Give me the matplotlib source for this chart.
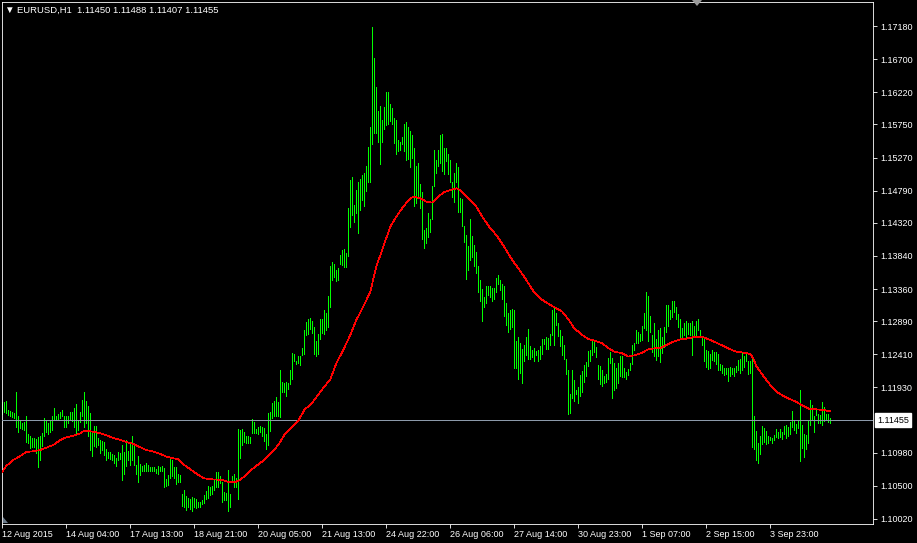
import numpy as np
import matplotlib
matplotlib.use("Agg")
import matplotlib.pyplot as plt
from matplotlib.transforms import blended_transform_factory
from matplotlib.patches import Polygon

plt.rcParams['font.family'] = ['Liberation Sans', 'DejaVu Sans']

# ---------------- data ----------------
symbol = "EURUSD,H1"
last_ohlc = ["1.11450", "1.11488", "1.11407", "1.11455"]
bid = 1.11455

highs = [
    1.1172,1.1172,1.1174,1.1160,1.1159,1.1157,1.1156,1.1187,1.1152,1.1146,
    1.1142,1.1143,1.1152,1.1126,1.1123,1.1119,1.1119,1.1118,1.1121,1.1122,
    1.1127,1.1149,1.1145,1.1142,1.1144,1.1152,1.1163,1.1152,1.1155,1.1157,
    1.1160,1.1151,1.1151,1.1152,1.1157,1.1157,1.1163,1.1169,1.1144,1.1157,
    1.1175,1.1187,1.1173,1.1166,1.1156,1.1130,1.1137,1.1137,1.1119,1.1117,
    1.1115,1.1114,1.1103,1.1099,1.1099,1.1096,1.1095,1.1090,1.1099,1.1098,
    1.1109,1.1100,1.1117,1.1101,1.1114,1.1123,1.1112,1.1081,1.1093,1.1082,
    1.1079,1.1081,1.1084,1.1081,1.1077,1.1077,1.1077,1.1075,1.1079,1.1077,
    1.1079,1.1076,1.1060,1.1066,1.1092,1.1088,1.1077,1.1078,1.1067,1.1066,
    1.1039,1.1044,1.1035,1.1032,1.1031,1.1034,1.1033,1.1031,1.1026,1.1027,
    1.1030,1.1037,1.1042,1.1050,1.1048,1.1050,1.1058,1.1070,1.1070,1.1064,
    1.1055,1.1041,1.1040,1.1073,1.1038,1.1064,1.1068,1.1061,1.1132,1.1131,
    1.1133,1.1129,1.1123,1.1122,1.1121,1.1147,1.1143,1.1133,1.1136,1.1137,
    1.1135,1.1134,1.1125,1.1156,1.1157,1.1170,1.1174,1.1179,1.1172,1.1219,
    1.1201,1.1199,1.1201,1.1199,1.1218,1.1243,1.1241,1.1232,1.1239,1.1238,
    1.1251,1.1277,1.1288,1.1293,1.1294,1.1290,1.1281,1.1261,1.1271,1.1292,
    1.1292,1.1306,1.1301,1.1326,1.1370,1.1375,1.1372,1.1363,1.1366,1.1386,
    1.1392,1.1394,1.1388,1.1454,1.1494,1.1499,1.1458,1.1480,1.1491,1.1496,
    1.1501,1.1504,1.1515,1.1543,1.1572,1.1716,1.1672,1.1630,1.1595,1.1602,
    1.1582,1.1601,1.1622,1.1622,1.1605,1.1599,1.1584,1.1581,1.1552,1.1550,
    1.1557,1.1575,1.1579,1.1571,1.1565,1.1559,1.1541,1.1514,1.1519,1.1489,
    1.1477,1.1422,1.1424,1.1447,1.1438,1.1486,1.1538,1.1523,1.1538,1.1559,
    1.1561,1.1541,1.1541,1.1532,1.1524,1.1492,1.1504,1.1519,1.1513,1.1468,
    1.1467,1.1428,1.1414,1.1398,1.1437,1.1413,1.1400,1.1390,1.1369,1.1349,
    1.1336,1.1324,1.1340,1.1340,1.1340,1.1338,1.1337,1.1352,1.1356,1.1349,
    1.1344,1.1340,1.1316,1.1301,1.1305,1.1307,1.1306,1.1261,1.1266,1.1258,
    1.1249,1.1254,1.1267,1.1278,1.1253,1.1247,1.1250,1.1246,1.1247,1.1253,
    1.1264,1.1263,1.1266,1.1265,1.1270,1.1305,1.1308,1.1301,1.1286,1.1277,
    1.1268,1.1254,1.1234,1.1219,1.1184,1.1218,1.1204,1.1189,1.1193,1.1211,
    1.1217,1.1226,1.1230,1.1246,1.1247,1.1260,1.1260,1.1252,1.1226,1.1224,
    1.1219,1.1209,1.1213,1.1236,1.1244,1.1236,1.1228,1.1222,1.1229,1.1239,
    1.1239,1.1222,1.1216,1.1220,1.1229,1.1255,1.1258,1.1276,1.1274,1.1271,
    1.1282,1.1301,1.1332,1.1326,1.1297,1.1269,1.1286,1.1264,1.1276,1.1280,
    1.1267,1.1281,1.1313,1.1313,1.1306,1.1319,1.1319,1.1310,1.1300,1.1293,
    1.1280,1.1286,1.1289,1.1286,1.1286,1.1290,1.1282,1.1289,1.1292,1.1276,
    1.1268,1.1267,1.1247,1.1246,1.1242,1.1247,1.1245,1.1245,1.1241,1.1227,
    1.1225,1.1222,1.1221,1.1222,1.1223,1.1222,1.1222,1.1224,1.1233,1.1235,
    1.1243,1.1238,1.1243,1.1232,1.1231,1.1240,1.1151,1.1130,1.1112,1.1122,
    1.1137,1.1134,1.1130,1.1122,1.1121,1.1119,1.1124,1.1132,1.1129,1.1132,
    1.1129,1.1137,1.1138,1.1136,1.1143,1.1159,1.1146,1.1140,1.1146,1.1189,
    1.1139,1.1126,1.1124,1.1146,1.1175,1.1167,1.1151,1.1162,1.1155,1.1153,
    1.1172,1.1164,1.1155,1.1155,1.1149,
]

lows = [
    1.1155,1.1157,1.1156,1.1153,1.1152,1.1150,1.1148,1.1135,1.1129,1.1134,
    1.1132,1.1131,1.1114,1.1112,1.1105,1.1107,1.1107,1.1098,1.1077,1.1088,
    1.1108,1.1122,1.1129,1.1126,1.1129,1.1131,1.1146,1.1147,1.1147,1.1148,
    1.1152,1.1136,1.1135,1.1142,1.1147,1.1145,1.1136,1.1124,1.1131,1.1143,
    1.1151,1.1136,1.1142,1.1122,1.1102,1.1094,1.1108,1.1107,1.1109,1.1098,
    1.1102,1.1095,1.1088,1.1090,1.1089,1.1088,1.1084,1.1079,1.1088,1.1089,
    1.1059,1.1068,1.1079,1.1088,1.1080,1.1088,1.1080,1.1067,1.1055,1.1066,
    1.1071,1.1071,1.1071,1.1072,1.1072,1.1071,1.1072,1.1069,1.1068,1.1071,
    1.1072,1.1048,1.1050,1.1051,1.1061,1.1064,1.1061,1.1053,1.1056,1.1056,
    1.1021,1.1019,1.1015,1.1019,1.1016,1.1014,1.1019,1.1018,1.1020,1.1019,
    1.1024,1.1025,1.1031,1.1032,1.1037,1.1039,1.1044,1.1049,1.1049,1.1054,
    1.1027,1.1029,1.1030,1.1014,1.1019,1.1055,1.1048,1.1048,1.1031,1.1091,
    1.1110,1.1114,1.1113,1.1112,1.1112,1.1127,1.1127,1.1127,1.1126,1.1128,
    1.1122,1.1115,1.1104,1.1109,1.1130,1.1148,1.1151,1.1152,1.1152,1.1150,
    1.1187,1.1186,1.1180,1.1191,1.1198,1.1206,1.1232,1.1227,1.1228,1.1226,
    1.1240,1.1241,1.1269,1.1271,1.1278,1.1272,1.1241,1.1238,1.1242,1.1263,
    1.1272,1.1270,1.1276,1.1281,1.1310,1.1349,1.1354,1.1348,1.1349,1.1373,
    1.1371,1.1368,1.1368,1.1384,1.1426,1.1444,1.1433,1.1446,1.1418,1.1451,
    1.1465,1.1456,1.1479,1.1492,1.1492,1.1547,1.1562,1.1563,1.1549,1.1517,
    1.1549,1.1569,1.1574,1.1576,1.1580,1.1576,1.1548,1.1532,1.1537,1.1538,
    1.1547,1.1537,1.1523,1.1525,1.1513,1.1527,1.1456,1.1461,1.1470,1.1453,
    1.1409,1.1395,1.1403,1.1412,1.1419,1.1437,1.1486,1.1504,1.1514,1.1519,
    1.1508,1.1503,1.1522,1.1503,1.1492,1.1470,1.1462,1.1492,1.1448,1.1448,
    1.1427,1.1404,1.1350,1.1364,1.1378,1.1383,1.1369,1.1359,1.1332,1.1319,
    1.1290,1.1310,1.1315,1.1327,1.1325,1.1319,1.1321,1.1331,1.1343,1.1335,
    1.1322,1.1297,1.1284,1.1273,1.1278,1.1281,1.1221,1.1222,1.1205,1.1214,
    1.1200,1.1231,1.1240,1.1234,1.1235,1.1237,1.1231,1.1240,1.1231,1.1234,
    1.1242,1.1256,1.1249,1.1249,1.1255,1.1269,1.1255,1.1284,1.1268,1.1253,
    1.1240,1.1234,1.1213,1.1155,1.1156,1.1177,1.1174,1.1184,1.1171,1.1180,
    1.1186,1.1201,1.1210,1.1224,1.1231,1.1240,1.1245,1.1237,1.1205,1.1198,
    1.1195,1.1199,1.1201,1.1205,1.1229,1.1177,1.1189,1.1192,1.1200,1.1209,
    1.1208,1.1208,1.1206,1.1211,1.1218,1.1227,1.1248,1.1257,1.1258,1.1260,
    1.1262,1.1280,1.1277,1.1261,1.1273,1.1245,1.1239,1.1233,1.1239,1.1230,
    1.1243,1.1252,1.1274,1.1282,1.1293,1.1296,1.1303,1.1293,1.1281,1.1264,
    1.1267,1.1269,1.1264,1.1271,1.1269,1.1240,1.1269,1.1267,1.1276,1.1267,
    1.1255,1.1232,1.1223,1.1220,1.1222,1.1233,1.1232,1.1227,1.1219,1.1218,
    1.1214,1.1211,1.1213,1.1203,1.1210,1.1213,1.1210,1.1216,1.1218,1.1214,
    1.1218,1.1223,1.1231,1.1213,1.1214,1.1107,1.1104,1.1087,1.1084,1.1096,
    1.1111,1.1114,1.1111,1.1113,1.1116,1.1113,1.1117,1.1121,1.1120,1.1121,
    1.1118,1.1125,1.1120,1.1122,1.1126,1.1135,1.1131,1.1127,1.1134,1.1086,
    1.1105,1.1092,1.1103,1.1113,1.1139,1.1146,1.1129,1.1153,1.1141,1.1142,
    1.1139,1.1145,1.1146,1.1143,1.1141,
]

# moving average (red line), sampled at bar positions
ma_bar = [0, 2, 5.5, 9, 12, 15.5, 19, 22, 25.5, 29, 32, 35.5, 39, 40.5, 44, 47, 49, 52, 55.5, 59,
          62, 65.5, 69, 72, 75.5, 79, 82, 88, 91, 95, 98, 101, 105, 110, 113, 116, 119, 123, 126, 131,
          135, 138, 141, 145, 148, 151, 155, 158, 161, 164, 167, 170.5, 174, 177, 180.5, 184, 187, 190.5,
          194, 197, 200.5, 204, 206, 209, 212, 215, 217, 220.5, 224, 227, 229, 230.5, 234, 237, 240.5,
          244, 247, 251, 255, 259, 262, 266, 270, 275, 280, 283, 286, 290, 293, 296, 300, 303, 306, 310,
          313, 316, 320, 323, 326, 329, 332, 335.5, 339, 342, 345.5, 350.5, 354, 357, 360.5, 364, 367,
          370.5, 374, 375.5, 377, 380.5, 384, 387, 390.5, 394, 397, 400.5, 404, 407, 410.5, 414]
ma_price = [1.10708, 1.10790, 1.10877, 1.10935, 1.10993, 1.11003, 1.11022, 1.11056, 1.11095, 1.11168,
            1.11206, 1.11231, 1.11264, 1.11293, 1.11293, 1.11279, 1.11264, 1.11235, 1.11197, 1.11168,
            1.11139, 1.11110, 1.11061, 1.11022, 1.10998, 1.10964, 1.10926, 1.10886, 1.10804, 1.10722,
            1.10659, 1.10610, 1.10596, 1.10586, 1.10557, 1.10552, 1.10586, 1.10693, 1.10770, 1.10877,
            1.10998, 1.11095, 1.11240, 1.11361, 1.11448, 1.11603, 1.11709, 1.11826, 1.11942, 1.12049,
            1.12281, 1.12475, 1.12693, 1.12910, 1.13104, 1.13322, 1.13685, 1.13976, 1.14266, 1.14411,
            1.14557, 1.14678, 1.14702, 1.14678, 1.14629, 1.14615, 1.14678, 1.14760, 1.14799, 1.14823,
            1.14799, 1.14750, 1.14653, 1.14557, 1.14387, 1.14242, 1.14145, 1.13970, 1.13780, 1.13620,
            1.13491, 1.13307, 1.13201, 1.13113, 1.13031, 1.12920, 1.12789, 1.12692, 1.12634, 1.12610,
            1.12571, 1.12503, 1.12450, 1.12426, 1.12378, 1.12397, 1.12436, 1.12484, 1.12499, 1.12499,
            1.12547, 1.12596, 1.12629, 1.12639, 1.12659, 1.12659, 1.12620, 1.12581, 1.12533, 1.12484,
            1.12450, 1.12436, 1.12417, 1.12354, 1.12242, 1.12097, 1.11966, 1.11869, 1.11807, 1.11758,
            1.11720, 1.11661, 1.11613, 1.11613, 1.11603, 1.11584]

time_labels = ["12 Aug 2015", "14 Aug 04:00", "17 Aug 13:00", "18 Aug 21:00", "20 Aug 05:00",
               "21 Aug 13:00", "24 Aug 22:00", "26 Aug 06:00", "27 Aug 14:00", "30 Aug 23:00",
               "1 Sep 07:00", "2 Sep 15:00", "3 Sep 23:00"]
time_label_bars = [0, 32, 64, 96, 128, 160, 192, 224, 256, 288, 320, 352, 384]

price_ticks = [1.17180, 1.16700, 1.16220, 1.15750, 1.15270, 1.14790, 1.14320, 1.13840,
               1.13360, 1.12890, 1.12410, 1.11930, 1.10980, 1.10500, 1.10020]

# ---------------- figure ----------------
W, H = 917, 543
fig = plt.figure(figsize=(W / 100, H / 100), dpi=100, facecolor='black')
ax = fig.add_axes([2 / W, 19 / H, 871 / W, 522 / H])
ax.set_facecolor('black')

LW = 0.5
idx = np.arange(len(highs))
ax.vlines(idx, lows, highs, colors='#00ff00', linewidth=LW, antialiased=False, zorder=2)
ax.axhline(bid, color='#8c9aaa', linewidth=LW, antialiased=False, zorder=3)
ax.plot(ma_bar, ma_price, color='#ff0000', linewidth=LW, antialiased=False, zorder=4)

ax.set_xlim(-0.15, 435.35)
ax.set_ylim(1.09947, 1.17529)

for s in ax.spines.values():
    s.set_color('white')
    s.set_linewidth(0.6)

ax.yaxis.tick_right()
ax.set_yticks(price_ticks)
ax.set_yticklabels([f"{p:.5f}" for p in price_ticks])
ax.tick_params(axis='y', direction='out', length=3, width=0.6, colors='white',
               labelsize=6.5, pad=2)

ax.set_xticks(time_label_bars)
ax.set_xticklabels(time_labels)
ax.tick_params(axis='x', direction='out', length=3, width=0.6, colors='white',
               labelsize=6.5, pad=1.5)
for lab in ax.get_xticklabels():
    lab.set_horizontalalignment('left')

# current price label box
tr = blended_transform_factory(ax.transAxes, ax.transData)
ax.text(1.0045, bid, f"{bid:.5f}", transform=tr, ha='left', va='center', fontsize=6.5,
        color='black', clip_on=False,
        bbox=dict(boxstyle='square,pad=0.25', fc='white', ec='white'))

# header text
fig.text(4 / W, 1 - 10 / H, "\u25bc", color='white', fontsize=7, ha='left', va='center')
fig.text(17 / W, 1 - 10 / H, f"{symbol}  " + " ".join(last_ohlc), color='white',
         fontsize=6.8, ha='left', va='center')

# chart-shift markers
fig.patches.append(Polygon([[692 / W, 1.0], [702 / W, 1.0], [697 / W, 1 - 6 / H]], closed=True,
                           transform=fig.transFigure, fc='#9a9a9a', ec='none'))
fig.patches.append(Polygon([[3 / W, 1 - 517 / H], [3 / W, 1 - 523 / H], [8 / W, 1 - 523 / H]],
                           closed=True, transform=fig.transFigure, fc='#6a7a8a', ec='none'))

fig.savefig("out.png", dpi=100, facecolor='black')
